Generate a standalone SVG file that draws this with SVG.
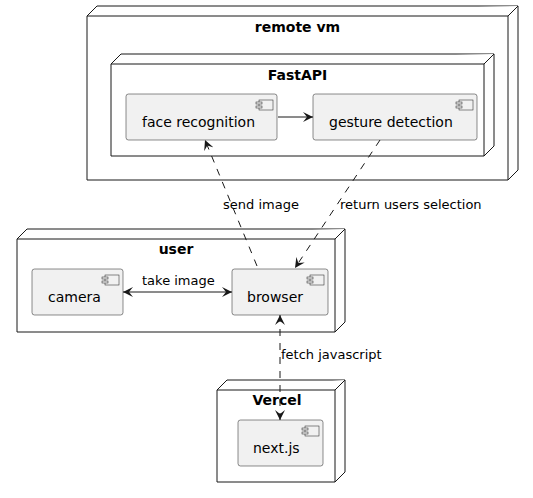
<svg xmlns="http://www.w3.org/2000/svg" width="533" height="498" viewBox="0 0 533 498">
<defs>
<style>
.node{fill:#FFFFFF;stroke:#181818;stroke-width:1}
.comp{fill:#F1F1F1;stroke:#181818;stroke-width:0.5}
.title{font-family:"DejaVu Sans",sans-serif;font-size:14px;font-weight:bold;fill:#000;text-anchor:middle}
.ctext{font-family:"DejaVu Sans",sans-serif;font-size:14px;fill:#000}
.lbl{font-family:"DejaVu Sans",sans-serif;font-size:13px;fill:#000}
.edge{stroke:#181818;stroke-width:1;fill:none}
.dash{stroke-dasharray:7,7}
</style>
<marker id="ah" viewBox="0 0 10 10" refX="10" refY="5" markerWidth="10" markerHeight="10" markerUnits="userSpaceOnUse" orient="auto-start-reverse">
<path d="M0,0 L10,5 L0,10 L4,5 Z" fill="#181818"/>
</marker>
<g id="icon">
<rect x="3" y="0" width="14" height="10" fill="#F1F1F1" stroke="#181818" stroke-width="0.5"/>
<rect x="0" y="2" width="6" height="2" fill="#F1F1F1" stroke="#181818" stroke-width="0.5"/>
<rect x="0" y="6" width="6" height="2" fill="#F1F1F1" stroke="#181818" stroke-width="0.5"/>
</g>
</defs>
<rect width="533" height="498" fill="#FFFFFF"/>

<g id="remote_vm">
<polygon class="node" points="87,16 97,6 518,6 518,170 508,180 87,180"/>
<polyline class="node" points="87,16 508,16 518,6" fill="none"/>
<line class="node" x1="508" y1="16" x2="508" y2="180"/>
<text class="title" x="297.5" y="32">remote vm</text>
</g>

<g id="FastAPI">
<polygon class="node" points="111,64 121,54 494,54 494,146 484,156 111,156"/>
<polyline class="node" points="111,64 484,64 494,54" fill="none"/>
<line class="node" x1="484" y1="64" x2="484" y2="156"/>
<text class="title" x="297.5" y="80">FastAPI</text>
</g>

<g id="face_recognition">
<rect class="comp" x="126" y="94" width="151" height="46" rx="2.5"/>
<use href="#icon" x="256" y="100"/>
<text class="ctext" x="142" y="127">face recognition</text>
</g>

<g id="gesture_detection">
<rect class="comp" x="313" y="94" width="164" height="46" rx="2.5"/>
<use href="#icon" x="456" y="100"/>
<text class="ctext" x="329" y="127">gesture detection</text>
</g>

<g id="user">
<polygon class="node" points="17,239 27,229 345,229 345,322 335,332 17,332"/>
<polyline class="node" points="17,239 335,239 345,229" fill="none"/>
<line class="node" x1="335" y1="239" x2="335" y2="332"/>
<text class="title" x="176" y="254">user</text>
</g>

<g id="camera">
<rect class="comp" x="32" y="269" width="91" height="46" rx="2.5"/>
<use href="#icon" x="102" y="275"/>
<text class="ctext" x="48" y="302">camera</text>
</g>

<g id="browser">
<rect class="comp" x="232" y="269" width="96" height="46" rx="2.5"/>
<use href="#icon" x="307" y="275"/>
<text class="ctext" x="247" y="302">browser</text>
</g>

<g id="Vercel">
<polygon class="node" points="217,390 227,380 345,380 345,472 335,482 217,482"/>
<polyline class="node" points="217,390 335,390 345,380" fill="none"/>
<line class="node" x1="335" y1="390" x2="335" y2="482"/>
<text class="title" x="277" y="405">Vercel</text>
</g>

<g id="nextjs">
<rect class="comp" x="238" y="420" width="85" height="46" rx="2.5"/>
<use href="#icon" x="302" y="426"/>
<text class="ctext" x="253" y="453">next.js</text>
</g>

<g id="connectors">
<line class="edge" x1="278" y1="117" x2="313" y2="117" marker-end="url(#ah)"/>
<line class="edge" x1="123" y1="292" x2="232" y2="292" marker-start="url(#ah)" marker-end="url(#ah)"/>
<text class="lbl" x="142" y="285">take image</text>
<line class="edge dash" x1="257" y1="266" x2="205" y2="140" marker-end="url(#ah)"/>
<text class="lbl" x="223" y="209">send image</text>
<line class="edge dash" x1="380" y1="140" x2="295" y2="268" marker-end="url(#ah)"/>
<text class="lbl" x="340" y="209">return users selection</text>
<line class="edge dash" x1="280" y1="315" x2="280" y2="420" marker-start="url(#ah)" marker-end="url(#ah)"/>
<text class="lbl" x="281" y="359">fetch javascript</text>
</g>
</svg>
